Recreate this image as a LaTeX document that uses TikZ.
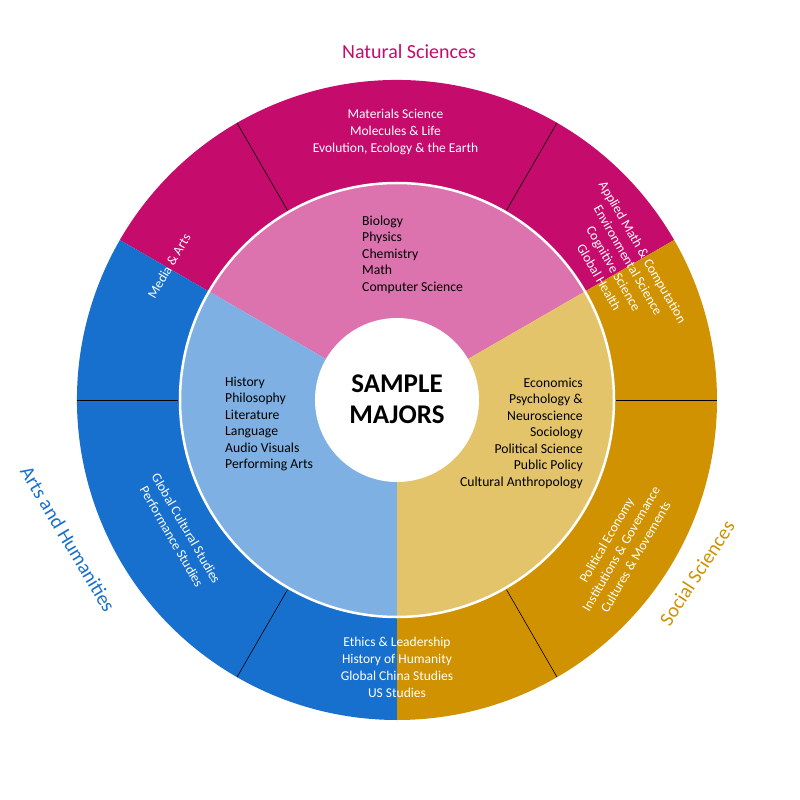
\documentclass[tikz,border=0pt]{standalone}
\usepackage{fontspec}
\setmainfont{Carlito}
\definecolor{nsdark}{HTML}{C50B6C}
\definecolor{nslight}{HTML}{DC72AE}
\definecolor{ahdark}{HTML}{1870CE}
\definecolor{ahlight}{HTML}{7EB0E3}
\definecolor{ssdark}{HTML}{D09200}
\definecolor{sslight}{HTML}{E4C46B}
\begin{document}
\begin{tikzpicture}[x=1pt,y=1pt,
  innertext/.style={inner sep=0pt,text=black,font=\fontsize{13.7}{16.5}\selectfont},
  outertext/.style={inner sep=0pt,text=white,align=center,font=\fontsize{13.5}{16.8}\selectfont},
  grouplabel/.style={inner sep=0pt,font=\fontsize{20}{24}\selectfont},
  sepline/.style={black,line width=0.6pt}]
\useasboundingbox (-397,-400) rectangle (403,400);
\fill[white] (-397,-400) rectangle (403,400);
% outer ring
\fill[nsdark] (30:320pt) arc[start angle=30,end angle=150,radius=320pt] -- (150:217pt) arc[start angle=150,end angle=30,radius=217pt] -- cycle;
\fill[ahdark] (150:320pt) arc[start angle=150,end angle=270,radius=320pt] -- (270:217pt) arc[start angle=270,end angle=150,radius=217pt] -- cycle;
\fill[ssdark] (270:320pt) arc[start angle=270,end angle=390,radius=320pt] -- (30:217pt) arc[start angle=390,end angle=270,radius=217pt] -- cycle;
% inner pie
\fill[nslight] (0,0) -- (30:217pt) arc[start angle=30,end angle=150,radius=217pt] -- cycle;
\fill[ahlight] (0,0) -- (150:217pt) arc[start angle=150,end angle=270,radius=217pt] -- cycle;
\fill[sslight] (0,0) -- (270:217pt) arc[start angle=270,end angle=390,radius=217pt] -- cycle;
\draw[white,line width=2.5pt] (0,0) circle[radius=217pt];
\fill[white] (0,0) circle[radius=82pt];
\foreach \a in {0,60,120,180,240,300} \draw[sepline] (\a:219pt) -- (\a:320pt);
% center
\node[inner sep=0pt,align=center,font=\bfseries\fontsize{27}{30.5}\selectfont] (center) at (0,1) {SAMPLE\\MAJORS};
% inner lists
\node[innertext,anchor=west,align=left] (ns) at (-35,145.5) {Biology\\Physics\\Chemistry\\Math\\Computer Science};
\node[innertext,anchor=west,align=left] (ah) at (-172,-24) {History\\Philosophy\\Literature\\Language\\Audio Visuals\\Performing Arts};
\node[innertext,anchor=east,align=right] (ss) at (186,-33) {Economics\\Psychology \&\\Neuroscience\\Sociology\\Political Science\\Public Policy\\Cultural Anthropology};
% outer texts
\node[outertext] (top) at (-1.5,268) {Materials Science\\Molecules \& Life\\Evolution, Ecology \& the Earth};
\node[outertext] (bottom) at (0,-267.5) {Ethics \& Leadership\\History of Humanity\\Global China Studies\\US Studies};
\node[outertext,rotate=-60] (applied) at (224,135.5) {Applied Math \& Computation\\Environmental Science\\Cognitive Science\\Global Health};
\node[outertext,rotate=60] (media) at (-228,134) {Media \& Arts};
\node[outertext,rotate=-60] (global) at (-218,-132.5) {Global Cultural Studies\\Performance Studies};
\node[outertext,rotate=60] (political) at (224,-148.5) {Political Economy\\Institutions \& Govemance\\Cultures \& Movements};
% group labels
\node[grouplabel,text=nsdark] (natsci) at (12,348) {Natural Sciences};
\node[grouplabel,text=ahdark,rotate=-59] (arts) at (-329,-139) {Arts and Humanities};
\node[grouplabel,text=ssdark,rotate=57] (social) at (300,-173) {Social Sciences};
\end{tikzpicture}
\end{document}
